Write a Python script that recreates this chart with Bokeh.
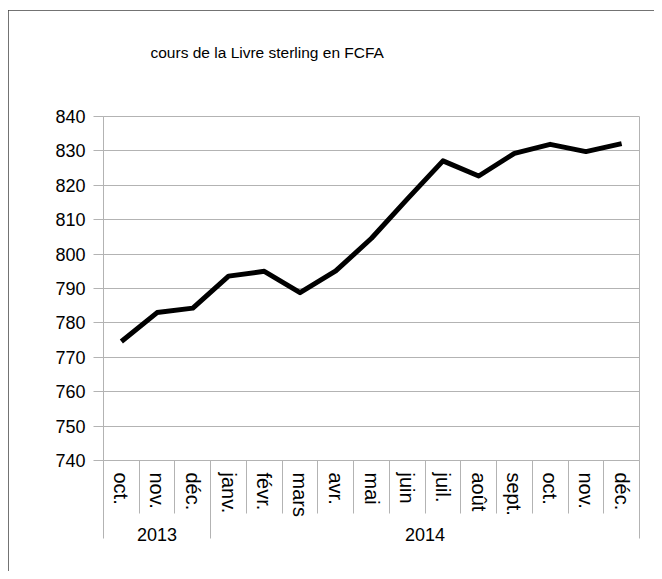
from bokeh.plotting import figure
from bokeh.models import Range1d, FixedTicker, LinearAxis
from bokeh.embed import file_html
from bokeh.resources import INLINE

title_text = "cours de la Livre sterling en FCFA"
months = ["oct.", "nov.", "déc.", "janv.", "févr.", "mars", "avr.", "mai",
          "juin", "juil.", "août", "sept.", "oct.", "nov.", "déc."]
years = ["2013", "2014"]
months_per_year = [3, 12]
rates = [774.6, 783.0, 784.3, 793.6, 795.0, 788.8, 795.1, 804.6,
         816.0, 827.1, 822.7, 829.3, 831.9, 829.8, 832.1]
y_ticks = [740, 750, 760, 770, 780, 790, 800, 810, 820, 830, 840]

GRAY = "#b3b3b3"
FONT = "Liberation Sans"

n = len(months)
x = [i + 0.5 for i in range(n)]

# year group centres and boundaries
bounds = [0]
for c in months_per_year:
    bounds.append(bounds[-1] + c)
year_centers = [(bounds[i] + bounds[i + 1]) / 2 for i in range(len(years))]

p = figure(width=646, height=561, output_backend="svg", toolbar_location=None,
           x_range=Range1d(0, n), y_range=Range1d(y_ticks[0], y_ticks[-1]),
           min_border_left=95, min_border_right=15,
           min_border_top=106, min_border_bottom=111,
           background_fill_color="white", border_fill_color="white")
p.styles = {"outline": "1px solid #444444", "outline-offset": "-1px",
            "margin-top": "10px", "margin-left": "8px"}

xa = p.below[0]
ya = p.left[0]

p.title.text = title_text
p.title.text_font = FONT
p.title.text_font_size = "15.5px"
p.title.text_font_style = "normal"
p.title.text_color = "black"
p.title.align = "left"
p.title.offset = 47
p.title.standoff = 10

p.outline_line_color = GRAY
p.outline_line_width = 1

p.xgrid.visible = False
p.ygrid.ticker = FixedTicker(ticks=y_ticks)
p.ygrid.grid_line_color = GRAY
p.ygrid.grid_line_width = 1

# y axis
ya.ticker = FixedTicker(ticks=y_ticks, minor_ticks=[])
ya.axis_line_color = GRAY
ya.major_tick_line_color = GRAY
ya.major_tick_out = 10
ya.major_tick_in = 0
ya.minor_tick_out = 0
ya.minor_tick_in = 0
ya.major_label_standoff = 8
ya.major_label_text_font = FONT
ya.major_label_text_font_size = "18px"
ya.major_label_text_color = "black"

# month axis
xa.ticker = FixedTicker(ticks=x, minor_ticks=list(range(n + 1)))
xa.major_label_overrides = {xi: m for xi, m in zip(x, months)}
xa.major_label_orientation = "vertical"
xa.axis_line_color = GRAY
xa.major_tick_out = 0
xa.major_tick_in = 0
xa.major_tick_line_color = None
xa.minor_tick_out = 0
xa.minor_tick_in = -53
xa.minor_tick_line_color = GRAY
xa.major_label_standoff = 12
xa.major_label_text_font = FONT
xa.major_label_text_font_size = "20px"
xa.major_label_text_color = "black"

# year axis
ya2 = LinearAxis(ticker=FixedTicker(ticks=year_centers, minor_ticks=bounds))
ya2.major_label_overrides = {c: y for c, y in zip(year_centers, years)}
ya2.axis_line_color = None
ya2.major_tick_out = 0
ya2.major_tick_in = 0
ya2.major_tick_line_color = None
ya2.minor_tick_in = 30
ya2.minor_tick_out = 19
ya2.minor_tick_line_color = GRAY
ya2.major_label_standoff = -11
ya2.major_label_text_font = FONT
ya2.major_label_text_font_size = "18px"
ya2.major_label_text_color = "black"
p.add_layout(ya2, "below")

# blank spacer axis above the frame, pushing the title upward
spacer = LinearAxis(ticker=FixedTicker(ticks=[x[0]], minor_ticks=[]))
spacer.major_label_overrides = {x[0]: " "}
spacer.axis_line_color = None
spacer.major_tick_line_color = None
spacer.minor_tick_line_color = None
spacer.major_tick_out = 47
spacer.major_tick_in = 0
spacer.minor_tick_out = 0
spacer.minor_tick_in = 0
spacer.major_label_standoff = 0
spacer.major_label_text_font_size = "1px"
p.add_layout(spacer, "above")

p.line(x, rates, line_color="black", line_width=5, line_join="round")

open("out.html", "w").write(file_html(p, INLINE))
